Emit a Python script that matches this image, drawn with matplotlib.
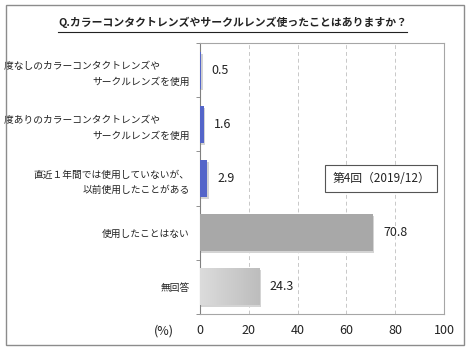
import numpy as np
import matplotlib
matplotlib.use("Agg")
import matplotlib.pyplot as plt
from matplotlib.patches import Rectangle
from matplotlib.lines import Line2D
from matplotlib.colors import LinearSegmentedColormap

plt.rcParams['font.family'] = ['Noto Sans CJK JP', 'DejaVu Sans']

# data
title = "Q.カラーコンタクトレンズやサークルレンズ使ったことはありますか？"
categories = [
    "度なしのカラーコンタクトレンズや　　　\nサークルレンズを使用",
    "度ありのカラーコンタクトレンズや　　　\nサークルレンズを使用",
    "直近１年間では使用していないが、\n以前使用したことがある",
    "使用したことはない",
    "無回答",
]
values = [0.5, 1.6, 2.9, 70.8, 24.3]
series_name = "第4回（2019/12）"
xticks = [0, 20, 40, 60, 80, 100]

bar_colors = ['#5465C9', '#5465C9', '#5465C9', '#A8A8A8', '#CCCCCC']

fig = plt.figure(figsize=(4.7, 3.5), dpi=100)
ax = fig.add_axes([200 / 470, 1 - 314 / 350, 244 / 470, 271 / 350])

y = np.arange(len(categories))
h = 0.68

# soft shadow behind the bars
ax.barh(y + 0.035, values, height=h, left=0.6, color='#d4d4d4', zorder=2)
bars = ax.barh(y, values, height=h, color=bar_colors, zorder=3)

# gradient fill for the last bar
grad = np.linspace(0, 1, 256).reshape(1, -1)
cmap = LinearSegmentedColormap.from_list("g", ['#DCDCDC', '#BDBDBD'])
b = bars[-1]
im = ax.imshow(grad, cmap=cmap, aspect='auto', zorder=4,
               extent=[b.get_x(), b.get_x() + b.get_width(), b.get_y() + b.get_height(), b.get_y()])
im.set_clip_path(b)

for yi, v in zip(y, values):
    ax.text(v + 4.2, yi, f"{v}", va='center', ha='left', fontsize=9, color='#222222', zorder=5)

ax.set_xlim(0, 100)
ax.set_ylim(len(categories) - 0.5, -0.5)
ax.set_xticks(xticks)
ax.set_xticklabels([str(t) for t in xticks], fontsize=9, color='#222222')
ax.tick_params(axis='x', length=0, pad=7)
ax.set_yticks(y)
ax.set_yticklabels(categories, fontsize=7, color='#222222', linespacing=1.7, ha='right')
ax.set_yticks(np.arange(len(categories) + 1) - 0.5, minor=True)
ax.tick_params(axis='y', which='major', length=0, pad=7.5)
ax.tick_params(axis='y', which='minor', length=3, color='#808080', direction='out')

ax.grid(axis='x', linestyle=(0, (4, 3)), color='#C8C8C8', linewidth=0.7, zorder=0)
for s in ['top', 'right', 'bottom']:
    ax.spines[s].set_color('#A6A6A6')
    ax.spines[s].set_linewidth(0.8)
ax.spines['left'].set_color('#808080')
ax.spines['left'].set_linewidth(0.8)

ax.text(74.2, 2, series_name, ha='center', va='center', fontsize=8.5, color='#222222', zorder=6,
        bbox=dict(boxstyle='square,pad=0.6', fc='white', ec='#555555', lw=0.8))

fig.text(164 / 470, 1 - 331 / 350, "(%)", ha='center', va='center', fontsize=9, color='#222222')

t = fig.text(0.495, 1 - 22 / 350, title, ha='center', va='center', fontsize=7.8,
             fontweight='bold', color='#222222')
fig.canvas.draw()
bb = t.get_window_extent().transformed(fig.transFigure.inverted())
fig.add_artist(Line2D([bb.x0, bb.x1], [1 - 32 / 350] * 2, color='#222222', lw=0.8,
                      transform=fig.transFigure))

fig.add_artist(Rectangle((6 / 470, 5 / 350), 458 / 470, 340 / 350, transform=fig.transFigure,
                         fill=False, ec='#8C8C8C', lw=1.0))

fig.savefig("out.png", dpi=100)
